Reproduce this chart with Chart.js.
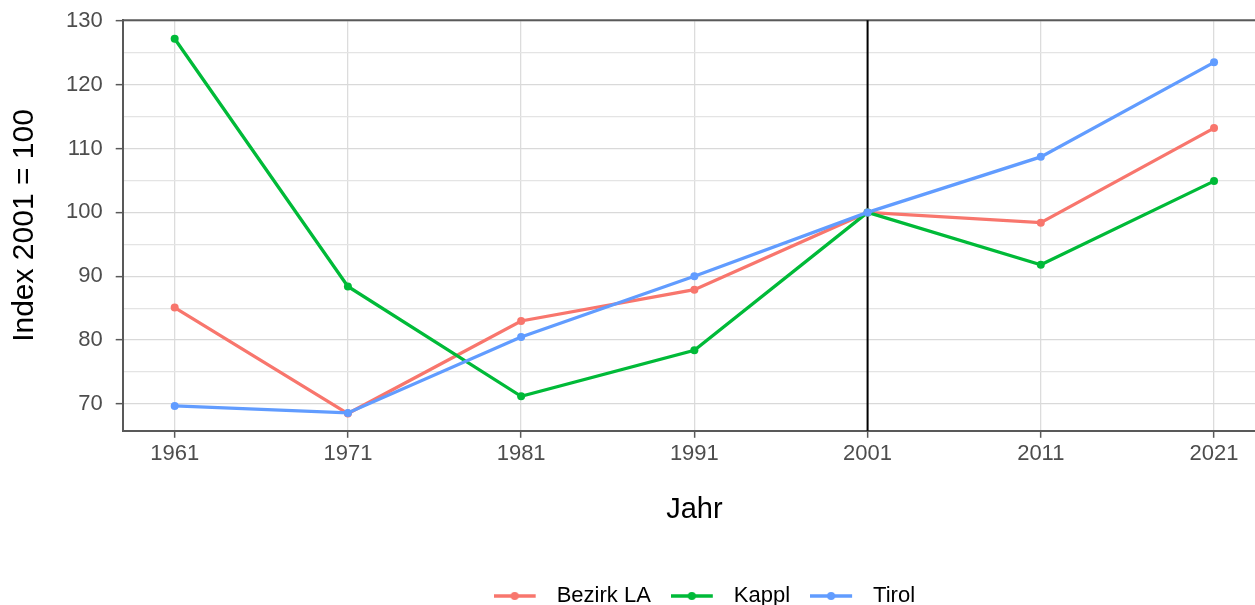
<!DOCTYPE html>
<html lang="de">
<head>
<meta charset="utf-8">
<title>Index 2001 = 100</title>
<script src="https://cdn.jsdelivr.net/npm/chart.js@4.4.1/dist/chart.umd.min.js"></script>
<style>
  html, body { margin: 0; padding: 0; background: #fff; overflow: hidden; }
  /* ggplot panel runs to 2024, a bit past the 1255px window, so the canvas is wider and gets cut.
     Chart.js keeps half a label + padding above the top tick, so pull the canvas up to compensate */
  #wrap { position: relative; width: 1270px; height: 623px; margin-top: -6px; }
</style>
</head>
<body>
<div id="wrap"><canvas id="myChart"></canvas></div>
<script>
const years = [1961, 1971, 1981, 1991, 2001, 2011, 2021];
const bezirkLA = [85.1, 68.5, 83.0, 87.9, 100, 98.4, 113.2];
const kappl = [127.2, 88.4, 71.2, 78.4, 100, 91.8, 104.9];
const tirol = [69.7, 68.6, 80.5, 90.0, 100, 108.7, 123.5];
const seriesNames = ['Bezirk LA', 'Kappl', 'Tirol'];
const seriesColors = ['#F8766D', '#00BA38', '#619CFF'];
const yTicks = [70, 75, 80, 85, 90, 95, 100, 105, 110, 115, 120, 125, 130];
const markerYear = 2001;

const axisGrey = '#595959';

// line + dot key like ggplot's legend
function legendIcon(color) {
  const c = document.createElement('canvas');
  c.width = 52;
  c.height = 10;
  const g = c.getContext('2d');
  g.strokeStyle = color;
  g.lineWidth = 3.3;
  g.beginPath();
  g.moveTo(0, 5);
  g.lineTo(42, 5);
  g.stroke();
  g.fillStyle = color;
  g.beginPath();
  g.arc(21, 5, 4, 0, Math.PI * 2);
  g.fill();
  return c;
}
const icons = seriesColors.map(legendIcon);

const panelExtras = {
  id: 'panelExtras',
  beforeDatasetsDraw(chart) {
    const { ctx, chartArea, scales } = chart;
    const x = scales.x.getPixelForValue(markerYear);
    ctx.save();
    ctx.strokeStyle = axisGrey;
    ctx.lineWidth = 2;
    ctx.beginPath();
    ctx.moveTo(chartArea.left, chartArea.top);
    ctx.lineTo(chartArea.right, chartArea.top);
    ctx.lineTo(chartArea.right, chartArea.bottom);
    ctx.stroke();
    ctx.strokeStyle = '#000';
    ctx.lineWidth = 2;
    ctx.beginPath();
    ctx.moveTo(x, chartArea.top);
    ctx.lineTo(x, chartArea.bottom);
    ctx.stroke();
    ctx.restore();
  }
};

// ggplot centres the legend a little right of the panel centre
const legendNudge = {
  id: 'legendNudge',
  afterLayout(chart) {
    chart.legend.left += 10;
    chart.legend.right += 10;
  }
};

const allSeries = [bezirkLA, kappl, tirol];
const datasets = allSeries.map(function (values, i) {
  return {
    label: seriesNames[i],
    data: years.map(function (y, j) { return { x: y, y: values[j] }; }),
    borderColor: seriesColors[i],
    backgroundColor: seriesColors[i],
    borderWidth: 3.3,
    pointRadius: 4,
    pointBorderWidth: 0,
    pointHoverRadius: 4,
    tension: 0,
    order: allSeries.length - i
  };
});

const ctx = document.getElementById('myChart').getContext('2d');
const myChart = new Chart(ctx, {
  type: 'line',
  data: { datasets: datasets },
  plugins: [panelExtras, legendNudge],
  options: {
    responsive: true,
    maintainAspectRatio: false,
    animation: false,
    layout: { padding: { top: 0, left: 0, right: 0, bottom: 0 } },
    font: { family: "'Liberation Sans', Arial, sans-serif" },
    plugins: {
      tooltip: { enabled: false },
      legend: {
        position: 'bottom',
        fullSize: false,
        labels: {
          usePointStyle: true,
          pointStyleWidth: 52,
          padding: 20,
          color: '#000',
          font: { family: "'Liberation Sans', Arial, sans-serif", size: 22 },
          generateLabels: function (chart) {
            const items = Chart.defaults.plugins.legend.labels.generateLabels(chart);
            items.forEach(function (item) { item.pointStyle = icons[item.datasetIndex]; });
            return items;
          },
          sort: function (a, b) { return a.datasetIndex - b.datasetIndex; }
        }
      }
    },
    scales: {
      x: {
        type: 'linear',
        min: 1958,
        max: 2024,
        afterBuildTicks: function (scale) {
          scale.ticks = years.map(function (v) { return { value: v }; });
        },
        ticks: {
          callback: function (v) { return String(v); },
          color: '#4d4d4d',
          font: { family: "'Liberation Sans', Arial, sans-serif", size: 22 },
          padding: 3,
          maxRotation: 0,
          autoSkip: false
        },
        grid: {
          color: '#dcdcdc',
          lineWidth: 1.3,
          tickLength: 7,
          tickColor: axisGrey,
          tickWidth: 1.5
        },
        border: { color: axisGrey, width: 2 },
        title: {
          display: true,
          text: 'Jahr',
          color: '#000',
          font: { family: "'Liberation Sans', Arial, sans-serif", size: 29 },
          padding: { top: 22, bottom: 38 }
        }
      },
      y: {
        type: 'linear',
        min: 65.8,
        max: 130.1,
        afterBuildTicks: function (scale) {
          scale.ticks = yTicks.map(function (v) { return { value: v }; });
        },
        ticks: {
          callback: function (v) { return v % 10 === 0 ? String(v) : ''; },
          color: '#4d4d4d',
          font: { family: "'Liberation Sans', Arial, sans-serif", size: 22 },
          padding: 13,
          autoSkip: false
        },
        grid: {
          color: function (c) { return c.tick && c.tick.value % 10 === 0 ? '#d9d9d9' : '#e4e4e4'; },
          lineWidth: 1.3,
          tickLength: 7,
          tickColor: function (c) { return c.tick && c.tick.value % 10 === 0 ? axisGrey : 'rgba(0,0,0,0)'; },
          tickWidth: 1.5
        },
        border: { color: axisGrey, width: 2 },
        title: {
          display: true,
          text: 'Index 2001 = 100',
          color: '#000',
          font: { family: "'Liberation Sans', Arial, sans-serif", size: 30 },
          padding: { top: 7, bottom: 10 }
        }
      }
    }
  }
});
</script>
</body>
</html>
